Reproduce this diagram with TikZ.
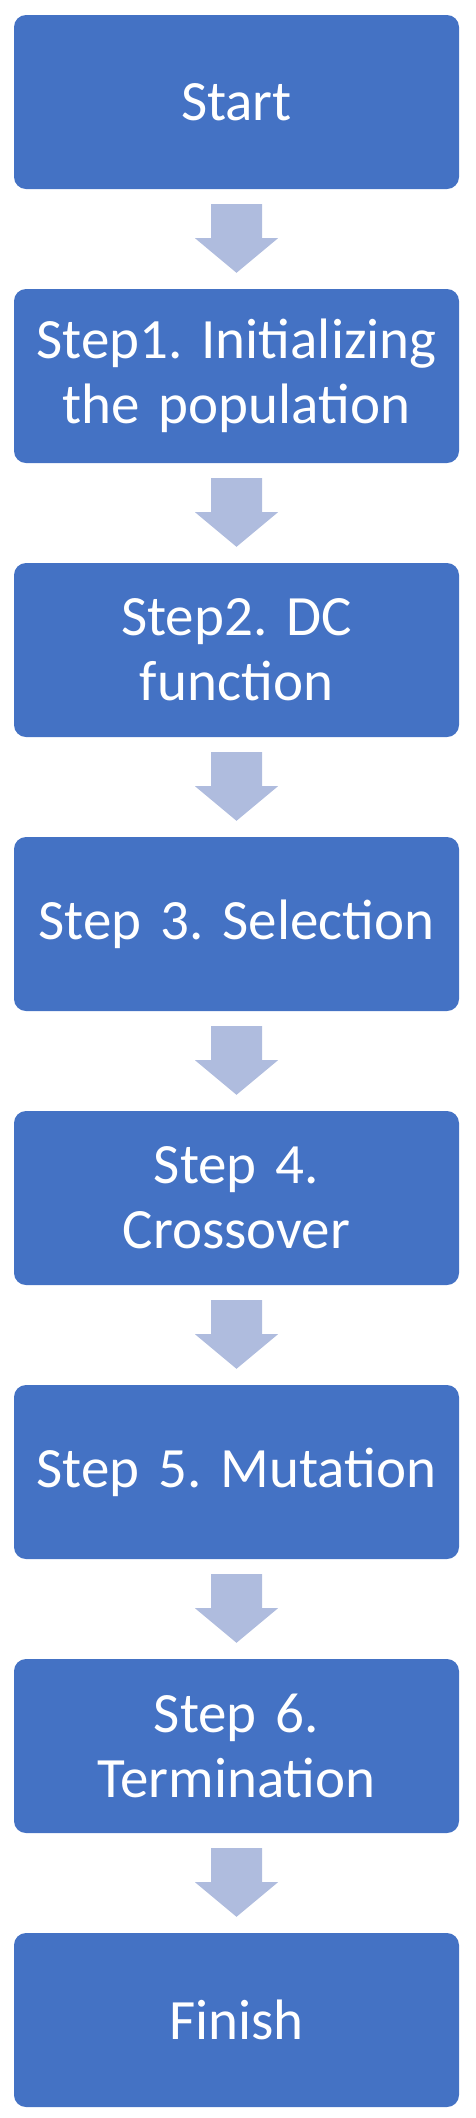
\documentclass[tikz,border=0pt]{standalone}
\usepackage{fontspec}
\setmainfont{Carlito}
\usetikzlibrary{calc}
\definecolor{boxc}{HTML}{4472C4}
\definecolor{arrc}{HTML}{AFBCDE}
\frenchspacing
\tikzset{
  stepbox/.style={fill=boxc, draw=none, rounded corners=12pt, minimum width=445pt, minimum height=174pt,
    text width=435pt, align=center, text=white, inner sep=0pt,
    font=\fontsize{57pt}{65pt}\selectfont},
}
\newcommand{\downarr}[2]{%
  \fill[arrc] ($(#1.south)+(-25.5pt,-15pt)$) -- ++(51pt,0) -- ++(0,-34pt) -- ++(16pt,0)
    -- ($(#2.north)+(0,16pt)$) -- ($(#1.south)+(-41.5pt,-49pt)$) -- ++(16pt,0) -- cycle;}
\begin{document}
\begin{tikzpicture}[x=1pt,y=1pt]
\useasboundingbox (0,0) rectangle (476,-2118);
\node[stepbox] (s0) at (236.5,-102) {Start};
\node[stepbox] (s1) at (236.5,-376) {Step1. Initializing\\the population};
\node[stepbox] (s2) at (236.5,-650) {Step2. DC\\function};
\node[stepbox] (s3) at (236.5,-924) {Step 3. Selection};
\node[stepbox] (s4) at (236.5,-1198) {Step 4.\\Crossover};
\node[stepbox] (s5) at (236.5,-1472) {Step 5. Mutation};
\node[stepbox] (s6) at (236.5,-1746) {Step 6.\\Termination};
\node[stepbox] (s7) at (236.5,-2020) {Finish};
\downarr{s0}{s1}
\downarr{s1}{s2}
\downarr{s2}{s3}
\downarr{s3}{s4}
\downarr{s4}{s5}
\downarr{s5}{s6}
\downarr{s6}{s7}
\end{tikzpicture}
\end{document}
